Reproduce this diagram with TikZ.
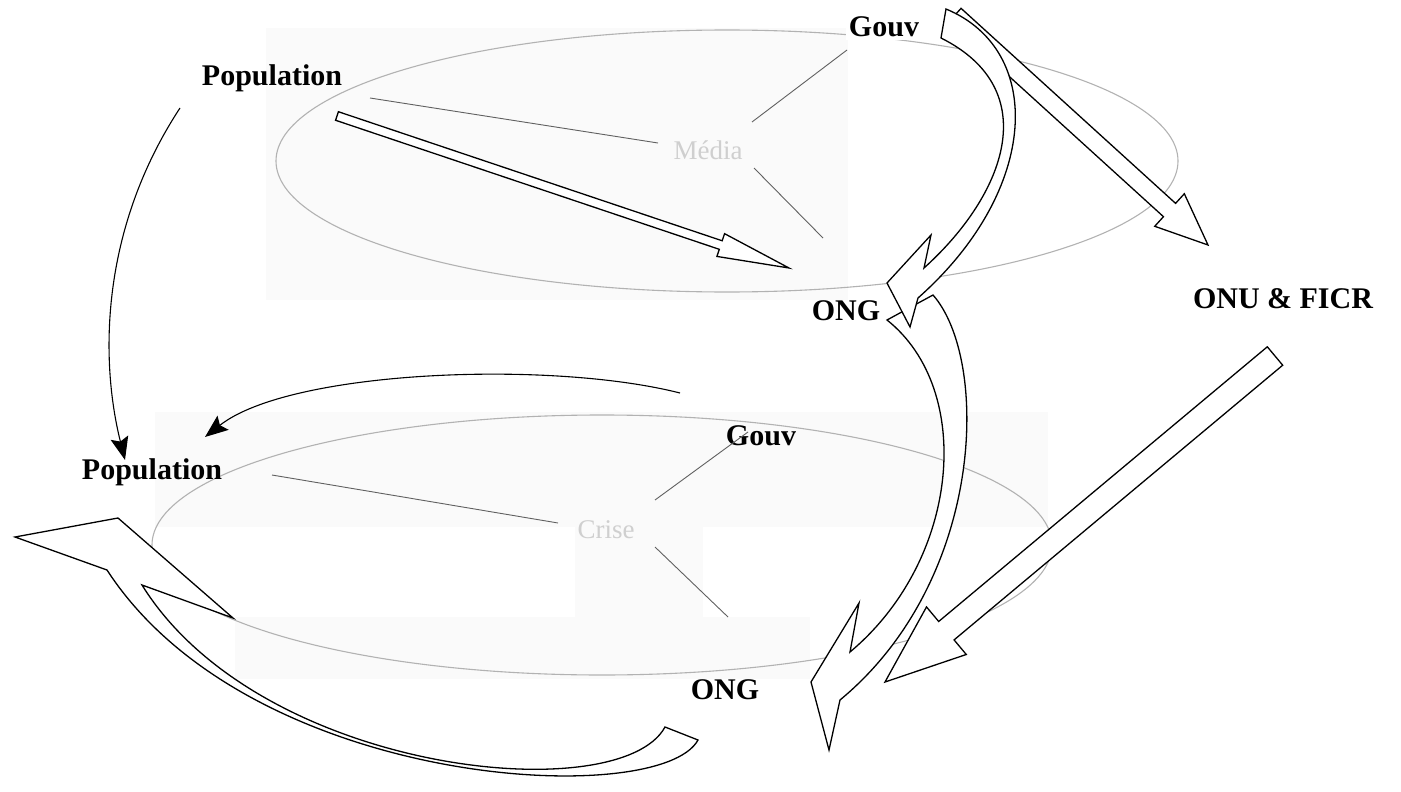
\documentclass[tikz,border=0pt]{standalone}
\usepackage{fontspec}
\setmainfont{Liberation Serif}
\usetikzlibrary{calc,arrows.meta}
\newcommand{\blkarrow}[5]{%
  \coordinate (ba-m) at ($(#2)!#5!(#1)$);
  \draw[blockarrow] ($(#1)!#3!90:(#2)$) -- ($(ba-m)!#3!-90:(#1)$) -- ($(ba-m)!#4!-90:(#1)$) -- (#2) -- ($(ba-m)!#4!90:(#1)$) -- ($(ba-m)!#3!90:(#1)$) -- ($(#1)!#3!-90:(#2)$) -- cycle;}
\begin{document}
\begin{tikzpicture}[x=1pt,y=-1pt,
  lbl/.style={font=\bfseries\fontsize{30}{30}\selectfont, inner sep=0pt},
  ghost/.style={font=\fontsize{27}{27}\selectfont, text=gray!38, inner sep=0pt},
  ell/.style={draw=gray!60, line width=1.1pt},
  link/.style={draw=gray!75!black, line width=0.9pt},
  scan/.style={fill=gray!4, draw=none},
  blockarrow/.style={draw=black, fill=white, line width=1.3pt, line join=miter},
  flowarrow/.style={draw=black, line width=1.1pt, -{Stealth[length=23pt,width=18pt,inset=4pt]}},
]
\useasboundingbox (0,0) rectangle (1401,792);
% faint scanned backgrounds
\fill[scan] (266,28) rectangle (848,300);
\fill[scan] (155,412) rectangle (1048,527);
\fill[scan] (575,527) rectangle (703,617);
\fill[scan] (235,617) rectangle (810,679);
% ellipses
\draw[ell] (727,161) ellipse [x radius=451pt, y radius=131pt];
\draw[ell] (602,545) ellipse [x radius=450pt, y radius=130pt];
% labels
\node[lbl] (popA) at (272,78) {Population};
\node[lbl, fill=white, inner sep=3pt] (gouvA) at (884,27) {Gouv};
\node[lbl] (ongA) at (846,311) {ONG};
\node[lbl] (onu) at (1283,299) {ONU \& FICR};
\node[ghost] (media) at (708,150) {Média};
\node[lbl] (popB) at (152,472) {Population};
\node[lbl] (gouvB) at (761,436) {Gouv};
\node[lbl] (ongB) at (725,690) {ONG};
\node[ghost] (crise) at (606,530) {Crise};
% link ends
\coordinate (l1a) at (370,98);  \coordinate (l1b) at (658,143);
\coordinate (l2a) at (847,50);  \coordinate (l2b) at (752,122);
\coordinate (l3a) at (754,168); \coordinate (l3b) at (823,238);
\coordinate (l4a) at (272,475); \coordinate (l4b) at (558,523);
\coordinate (l5a) at (748,432); \coordinate (l5b) at (655,500);
\coordinate (l6a) at (655,547); \coordinate (l6b) at (728,617);
\draw[link] (l1a) -- (l1b);
\draw[link] (l2a) -- (l2b);
\draw[link] (l3a) -- (l3b);
\draw[link] (l4a) -- (l4b);
\draw[link] (l5a) -- (l5b);
\draw[link] (l6a) -- (l6b);
% thin arrows
\coordinate (f1s) at (180,108); \coordinate (f1e) at (125,460);
\coordinate (f2s) at (680,393); \coordinate (f2e) at (205,437);
\draw[flowarrow] (f1s) .. controls (100,230) and (100,360) .. (f1e);
\draw[flowarrow] (f2s) .. controls (550,360) and (290,370) .. (f2e);
% straight block arrows
\coordinate (b1s) at (337,116); \coordinate (b1e) at (789,268);
\coordinate (b2s) at (955,15);  \coordinate (b2e) at (1208,245);
\coordinate (b3s) at (1275,356); \coordinate (b3e) at (885,682);
\blkarrow{b1s}{b1e}{4.5pt}{12pt}{72pt}
\blkarrow{b2s}{b2e}{9pt}{22pt}{52pt}
\blkarrow{b3s}{b3e}{12pt}{31pt}{80pt}
% curved block arrow ONG (top) -> ONG (bottom)
\draw[blockarrow] (887,320) .. controls (975,390) and (960,560) .. (850,652) -- (859,603) -- (811,682) -- (829,750) -- (840,700) .. controls (985,580) and (990,360) .. (933,295) -- cycle;
% curved block arrow Gouv -> ONG (top)
\draw[blockarrow] (946,9) .. controls (1045,50) and (1040,190) .. (918,298) -- (910,327) -- (887,283) -- (931,235) -- (924,268) .. controls (1005,195) and (1045,90) .. (941,38) -- cycle;
% curved block arrow bottom -> Population
\draw[blockarrow] (665,727) -- (698,740) .. controls (660,810) and (250,790) .. (107,570) -- (15,537) -- (118,518) -- (233,618) -- (142,585) .. controls (260,775) and (620,810) .. (665,727) -- cycle;
\end{tikzpicture}
\end{document}
